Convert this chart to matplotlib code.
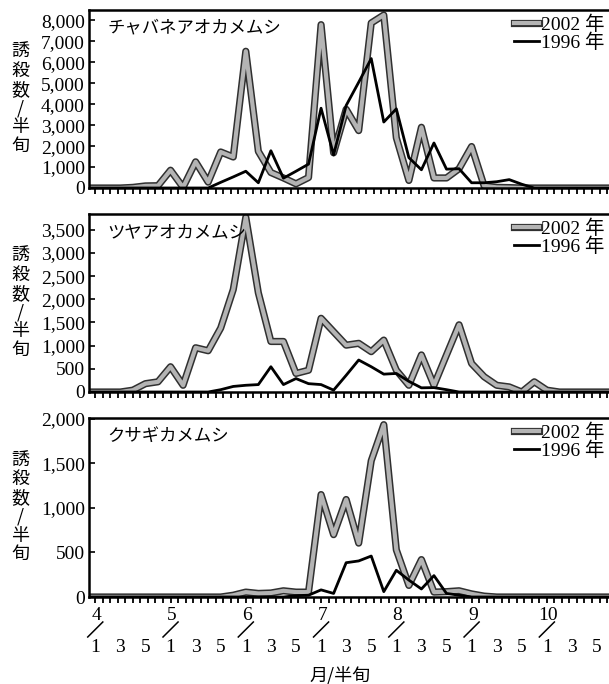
import numpy as np
import matplotlib
matplotlib.use('Agg')
import matplotlib.pyplot as plt
import matplotlib.patheffects as pe
from matplotlib.ticker import FuncFormatter

plt.rcParams['font.family'] = ['Liberation Serif', 'Noto Sans CJK JP']

# 半旬 index: 0 = 4月1半旬, 6 per month, starts at -1 (3月6半旬)
half_idx = list(range(-1, 43))
months = [4, 5, 6, 7, 8, 9, 10]
half_labels = ['1', '3', '5']

species = ['チャバネアオカメムシ', 'ツヤアオカメムシ', 'クサギカメムシ']

p1_2002 = [0, 0, 0, 0, 30, 100, 110, 850, 30, 1250, 280, 1720, 1480, 6530, 1750, 740,
           480, 200, 500, 7800, 1680, 3760, 2740, 7880, 8260, 2400, 360, 2900, 480, 480,
           920, 1980, 100, 30, 20, 0, 0, 0, 0, 0, 0, 0, 0, 0]
p1_1996 = [0, 0, 0, 0, 0, 0, 0, 0, 0, 0, 0, 270, 530, 800, 250, 1780,
           470, 800, 1140, 3810, 1580, 3940, 5050, 6180, 3150, 3780, 1450, 870, 2150, 900,
           920, 250, 250, 300, 400, 180, 0, 0, 0, 0, 0, 0, 0, 0]

p2_2002 = [0, 0, 0, 0, 40, 180, 220, 545, 145, 955, 890, 1380, 2210, 3770, 2140, 1090,
           1090, 400, 470, 1590, 1300, 1010, 1050, 870, 1120, 470, 145, 800, 145, 800,
           1450, 615, 330, 145, 110, 0, 220, 40, 0, 0, 0, 0, 0, 0]
p2_1996 = [0, 0, 0, 0, 0, 0, 0, 0, 0, 0, 0, 50, 120, 145, 160, 545,
           160, 290, 180, 160, 40, 360, 690, 545, 385, 400, 230, 90, 95, 50,
           0, 0, 0, 0, 0, 0, 0, 0, 0, 0, 0, 0, 0, 0]

p3_2002 = [0, 0, 0, 0, 0, 0, 0, 0, 0, 0, 0, 0, 20, 55, 40, 45,
           70, 55, 55, 1150, 700, 1095, 605, 1530, 1935, 530, 130, 420, 55, 60,
           70, 35, 10, 0, 0, 0, 0, 0, 0, 0, 0, 0, 0, 0]
p3_1996 = [0, 0, 0, 0, 0, 0, 0, 0, 0, 0, 0, 0, 0, 0, 0, 0,
           0, 15, 20, 80, 40, 385, 405, 460, 60, 300, 190, 90, 240, 40,
           20, 0, 0, 0, 0, 0, 0, 0, 0, 0, 0, 0, 0, 0]

data_2002 = [p1_2002, p2_2002, p3_2002]
data_1996 = [p1_1996, p2_1996, p3_1996]
ymax = [8500, 3840, 2010]
ystep = [1000, 500, 500]

W, H = 609, 684
fig = plt.figure(figsize=(W / 100, H / 100), dpi=100)
# panel positions in pixels (top, bottom)
panels = [(10, 188), (214, 392), (418, 597)]
left = 89

axes = []
for k in range(3):
    top, bot = panels[k]
    ax = fig.add_axes([left / W, 1 - bot / H, 1 - left / W + 0.003, (bot - top) / H])
    axes.append(ax)
    l1, = ax.plot(half_idx, data_2002[k], color='#b4b4b4', lw=3.0, solid_joinstyle='round',
                  path_effects=[pe.Stroke(linewidth=5.2, foreground='#303030', joinstyle='round'),
                                pe.Normal()],
                  label='2002 年', zorder=2)
    l2, = ax.plot(half_idx, data_1996[k], color='black', lw=2.0, label='1996 年', zorder=3)
    ax.set_xlim(-0.5, 41.1)
    ax.set_ylim(0, ymax[k])
    ax.set_yticks(np.arange(0, ymax[k] + 1, ystep[k]))
    ax.yaxis.set_major_formatter(FuncFormatter(lambda v, p: '{:,.0f}'.format(v)))
    ax.set_xticks(np.arange(0, 41.2, 0.6))
    ax.tick_params(axis='x', direction='out', length=4, width=1.3, labelbottom=False)
    ax.tick_params(axis='y', direction='in', length=4, width=1.2, labelsize=14, pad=3)
    for s in ['left', 'top', 'bottom']:
        ax.spines[s].set_linewidth(1.8)
    ax.spines['right'].set_visible(False)
    ax.text(0.035, 0.9, species[k], transform=ax.transAxes, fontsize=12.5,
            family=['Noto Sans CJK JP'], va='center', ha='left')
    ax.legend(handles=[l1, l2], loc='upper right', frameon=False, fontsize=14,
              handlelength=1.3, handletextpad=0.1, labelspacing=-0.05,
              borderaxespad=0.1, borderpad=0.2)
    fig.text(20 / W, 1 - (top + bot) / 2 / H, '誘\n殺\n数\n/\n半\n旬', fontsize=13,
             family=['Noto Sans CJK JP'], ha='center', va='center', linespacing=1.05)

# month / half-month labels under the bottom panel
ax = axes[2]
tr = ax.get_xaxis_transform()
ph = panels[2][1] - panels[2][0]
def ay(py):
    return (panels[2][1] - py) / ph

for m_i, m in enumerate(months):
    base = m_i * 6
    ax.text(base + 0.1, ay(616), str(m), transform=tr, ha='center', va='center',
            fontsize=14, clip_on=False)
    ax.plot([base - 0.6, base + 0.6], [ay(637), ay(622)], transform=tr, color='black',
            lw=1.1, clip_on=False)
    for j, lab in enumerate(half_labels):
        ax.text(base + 2 * j, ay(647), lab, transform=tr, ha='center', va='center',
                fontsize=14, clip_on=False)

fig.text(340 / W, 1 - 675 / H, '月/半旬', fontsize=13, family=['Noto Sans CJK JP'],
         ha='center', va='center')

plt.savefig('out.png', dpi=100)
